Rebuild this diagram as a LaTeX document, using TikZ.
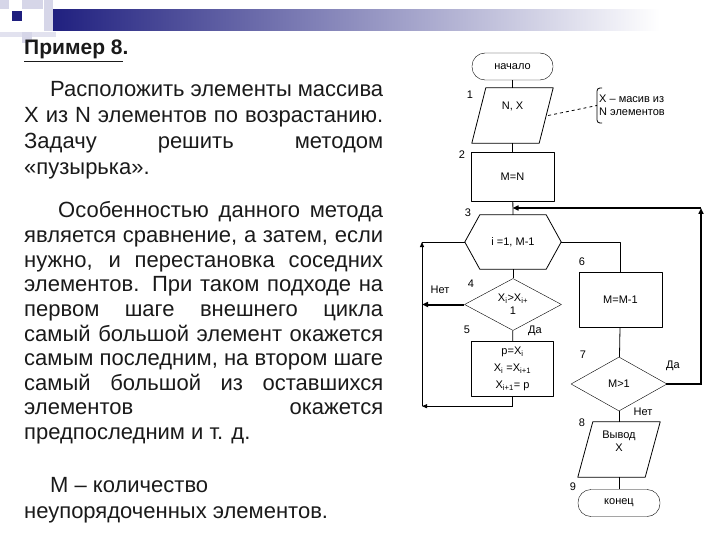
\documentclass[tikz,border=0pt]{standalone}
\usepackage{fontspec}
\setmainfont{Liberation Sans}
\usetikzlibrary{positioning,shapes.geometric,arrows.meta}
\definecolor{barblue}{HTML}{1E1E7E}
\definecolor{paleblue}{HTML}{D6D6E8}
\definecolor{inkgray}{HTML}{1A1A1A}

\tikzset{
  flowtext/.style={font=\fontsize{11}{13}\selectfont},
  term/.style={flowtext, draw, rounded corners=13pt, minimum width=81pt, minimum height=27pt, inner sep=0},
  proc/.style={flowtext, draw, minimum width=83pt, minimum height=55pt, inner sep=0, align=center},
  iobox/.style={flowtext, minimum width=81pt, minimum height=55pt, inner sep=0, align=center},
  cond/.style={flowtext, draw, diamond, minimum width=97pt, minimum height=52pt, inner sep=0, align=center},
  hexbox/.style={flowtext, minimum width=96pt, minimum height=54pt, inner sep=0},
  flow/.style={line width=0.8pt},
  arr/.style={flow, -{Triangle[length=5pt,width=4pt]}},
  thickarr/.style={line width=2pt, -{Triangle[length=6pt,width=5pt]}},
  bodytext/.style={anchor=base west, inner sep=0, text=inkgray},
}

\begin{document}
\begin{tikzpicture}[x=1pt, y=-1pt, line join=round]
  \useasboundingbox (0,0) rectangle (720,540);

  % header strip
  \fill[paleblue] (0,0) rectangle (9,9);
  \fill[paleblue] (22,0) rectangle (43,9);
  \fill[paleblue!70] (0,32) rectangle (56,37);
  \fill[paleblue] (22,32) rectangle (32,43);
  \shade[left color=barblue, right color=white] (47,10) rectangle (660,31);
  \fill[paleblue] (44,0) rectangle (53,31);
  \fill[barblue] (12,11) rectangle (22,21);

  % left column text
  \node[bodytext, font=\fontsize{21}{24}\selectfont\bfseries] (title) at (24,55) {\underline{Пример 8}.};
  \node[bodytext] (para1) at (24,97) {\parbox[t]{359pt}{\fontsize{22}{26}\selectfont\tolerance=10000
    \hspace*{26pt}Расположить элементы массива\linebreak
    X из N элементов по возрастанию.\linebreak
    Задачу решить методом\linebreak
    «пузырька».}};
  \node[bodytext] (para2) at (24,218) {\parbox[t]{359pt}{\fontsize{22}{24.6}\selectfont\tolerance=10000
    \hspace*{34pt}Особенностью данного метода\linebreak
    является сравнение, а затем, если\linebreak
    нужно, и перестановка соседних\linebreak
    элементов. При таком подходе на\linebreak
    первом шаге внешнего цикла\linebreak
    самый большой элемент окажется\linebreak
    самым последним, на втором шаге\linebreak
    самый большой из оставшихся\linebreak
    элементов окажется\linebreak
    предпоследним и т. д.}};
  \node[bodytext] (para3) at (24,492) {\parbox[t]{359pt}{\fontsize{22}{26}\selectfont
    \hspace*{26pt}М – количество\\
    неупорядоченных элементов.}};

  % flowchart blocks
  \node[term] (start) at (512.5,66.5) {начало};
  \node[iobox] (input) at (512.5,115.5) {N, X\\[6pt]};
  \draw[flow] ([xshift=14pt]input.north west) -- (input.north east)
    -- ([xshift=-14pt]input.south east) -- (input.south west) -- cycle;
  \node[proc, minimum height=49pt] (init) at (512.5,176.5) {M=N};
  \node[hexbox] (loop) at (513,242) {i =1, M-1};
  \draw[flow] ([xshift=15pt]loop.north west) -- ([xshift=-15pt]loop.north east) -- (loop.east)
    -- ([xshift=-15pt]loop.south east) -- ([xshift=15pt]loop.south west) -- (loop.west) -- cycle;
  \node[cond] (cmp) at (513,304.5) {X\textsubscript{i}>X\textsubscript{i+}\\1};
  \node[proc, minimum width=82pt, font=\fontsize{11}{17}\selectfont] (swap) at (512.5,369)
    {p=X\textsubscript{i}\\X\textsubscript{i} =X\textsubscript{i+1}\\X\textsubscript{i+1}= p};
  \node[proc] (dec) at (620.5,299.5) {M=M-1};
  \node[cond, minimum width=96pt, minimum height=54pt] (chk) at (619,384) {M>1};
  \node[iobox, minimum width=82pt] (output) at (619,449.5) {Вывод\\X\\[4pt]};
  \draw[flow] ([xshift=15pt]output.north west) -- (output.north east)
    -- ([xshift=-15pt]output.south east) -- (output.south west) -- cycle;
  \node[term, minimum width=82pt] (stop) at (619,503) {конец};

  % comment
  \node[flowtext, anchor=west, align=left, inner xsep=2pt, inner ysep=7pt] (note) at (597,105.5)
    {X – масив из\\N элементов};
  \draw[flow, rounded corners=3pt] ([xshift=5pt]note.north west) -| (note.west) |- ([xshift=5pt]note.south west);
  \draw[flow, dashed] ([xshift=-5pt]input.east) -- (note.west);

  % block numbers
  \foreach \x/\y/\t in {470/95/1, 462/155/2, 468/213/3, 471/284/4, 467/330/5,
                        582/262/6, 583/355/7, 582/423/8, 573/487/9}
    \node[flowtext] (num\t) at (\x,\y) {\t};

  % branch labels
  \node[flowtext] (cmpno) at (440,290) {Нет};
  \node[flowtext] (cmpyes) at (535,331) {Да};
  \node[flowtext] (chkyes) at (673,366) {Да};
  \node[flowtext] (chkno) at (643,412) {Нет};

  % connectors
  \coordinate (lx) at (422,0);
  \coordinate (rx) at (701,0);
  \coordinate (join) at (512.5,208);
  \draw[flow] (start) -- (input);
  \draw[flow] (input) -- (init);
  \draw[flow] (init) -- (loop.north);
  \draw[flow] (loop.south) -- (cmp);
  \draw[flow] (cmp) -- (swap);
  \draw[flow] (swap.south) -- ++(0,9.5) coordinate (sb);
  \draw[arr] (sb) -- (sb -| lx);
  \draw[arr] (sb -| lx) -- (loop.west -| lx);
  \draw[flow] (loop.west -| lx) -- (loop.west);
  \draw[thickarr] (cmp.west) -- (cmp.west -| lx);
  \draw[flow] (loop.east) -| (dec.north);
  \draw[flow] (dec) -- (chk);
  \draw[line width=2pt, line cap=rect] (chk.east) -- (chk.east -| rx);
  \draw[thickarr] (chk.east -| rx) -- (join -| rx);
  \draw[thickarr] (join -| rx) -- (join);
  \draw[flow] (chk) -- (output);
  \draw[flow] (output) -- (stop);
\end{tikzpicture}
\end{document}
